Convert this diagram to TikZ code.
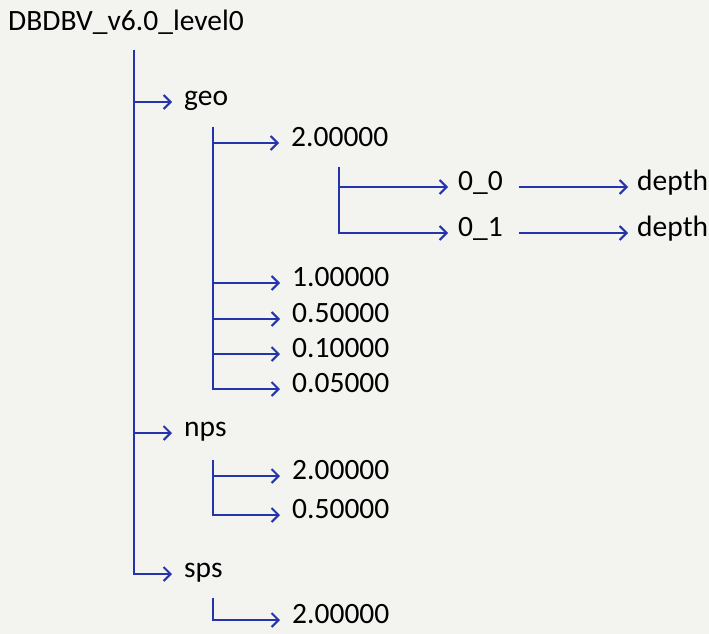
\documentclass[tikz,border=0pt]{standalone}
\usepackage{fontspec}
\setmainfont{Carlito}
\usetikzlibrary{arrows.meta}
\definecolor{treeblue}{HTML}{2434AA}
\definecolor{paper}{HTML}{F3F3F0}
\tikzset{
  lbl/.style={anchor=west, inner sep=0pt, text height=0.75em, text depth=0pt,
    font=\fontsize{29.5}{34}\selectfont, text=black},
  arr/.style={draw=treeblue, line width=2pt, -{Straight Barb[length=7pt,width=14pt,line width=2pt]}, shorten >=12pt},
  stem/.style={draw=treeblue, line width=2pt}
}
\begin{document}
\begin{tikzpicture}[x=1pt,y=-1pt]
\fill[paper] (0,0) rectangle (709,634);
\useasboundingbox (0,0) rectangle (709,634);
% nodes
\node[lbl] (root) at (8,27) {DBDBV\_v6.0\_level0};
\node[lbl] (geo) at (184,102) {geo};
\node[lbl] (g2) at (291,143) {2.00000};
\node[lbl] (a00) at (458,187) {0\_0};
\node[lbl] (d00) at (637,187) {depth};
\node[lbl] (a01) at (458,233) {0\_1};
\node[lbl] (d01) at (637,233) {depth};
\node[lbl] (g1) at (292,283) {1.00000};
\node[lbl] (g05) at (292,319) {0.50000};
\node[lbl] (g01) at (292,354) {0.10000};
\node[lbl] (g005) at (292,389) {0.05000};
\node[lbl] (nps) at (184,433) {nps};
\node[lbl] (n2) at (292,476) {2.00000};
\node[lbl] (n05) at (292,515) {0.50000};
\node[lbl] (sps) at (184,574) {sps};
\node[lbl] (s2) at (292,620) {2.00000};
% branch origins
\coordinate (t0) at (134,50);
\coordinate (t1) at (213,127);
\coordinate (t2) at (339,167);
\coordinate (t3) at (213,460);
\coordinate (t4) at (213,598);
% connectors
\draw[arr] (t0) |- (geo.west);
\draw[arr] (t0) |- (nps.west);
\draw[arr] (t0) |- (sps.west);
\draw[arr] (t1) |- (g2.west);
\draw[arr] (t1) |- (g1.west);
\draw[arr] (t1) |- (g05.west);
\draw[arr] (t1) |- (g01.west);
\draw[arr] (t1) |- (g005.west);
\draw[arr, shorten >=10pt] (t2) |- (a00.west);
\draw[arr, shorten >=10pt] (t2) |- (a01.west);
\draw[arr, shorten <=16pt, shorten >=9pt] (a00.east) -- (d00.west);
\draw[arr, shorten <=16pt, shorten >=9pt] (a01.east) -- (d01.west);
\draw[arr] (t3) |- (n2.west);
\draw[arr] (t3) |- (n05.west);
\draw[arr] (t4) |- (s2.west);
\end{tikzpicture}
\end{document}
